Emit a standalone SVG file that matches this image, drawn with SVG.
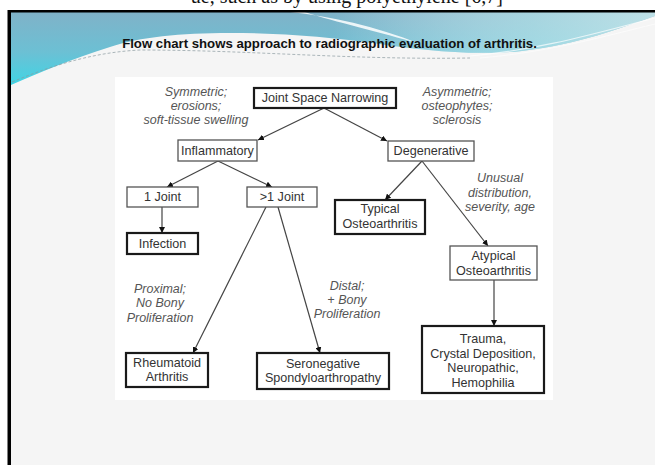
<svg xmlns="http://www.w3.org/2000/svg" width="655" height="465" viewBox="0 0 655 465">
<defs>
<linearGradient id="tealV" x1="0" y1="0" x2="0" y2="1">
<stop offset="0" stop-color="#80b2c8"/>
<stop offset="0.55" stop-color="#6cc0d4"/>
<stop offset="1" stop-color="#3fd5e5"/>
</linearGradient>
<linearGradient id="tealH" x1="0" y1="0" x2="1" y2="0">
<stop offset="0" stop-color="#ffffff" stop-opacity="0"/>
<stop offset="0.5" stop-color="#ffffff" stop-opacity="0"/>
<stop offset="0.8" stop-color="#c8eef0" stop-opacity="0.55"/>
<stop offset="1" stop-color="#d8f3f3" stop-opacity="0.7"/>
</linearGradient>
<marker id="arr" viewBox="0 0 10 10" refX="10" refY="5" markerWidth="6" markerHeight="6" markerUnits="userSpaceOnUse" orient="auto">
<path d="M0,0 L10,5 L0,10 Z" fill="#111"/>
</marker>
<clipPath id="slideClip"><rect x="11" y="12" width="644" height="453"/></clipPath>
</defs>
<style>
.node rect.thin{fill:#fff;stroke:#555;stroke-width:1.3}
.node rect.thick{fill:#fff;stroke:#1a1a1a;stroke-width:2.2}
.node text{font-family:"Liberation Sans",Arial,sans-serif;font-size:12.6px;fill:#333;text-anchor:middle}
.note{font-family:"Liberation Sans",Arial,sans-serif;font-size:12.5px;font-style:italic;fill:#555;text-anchor:middle}
.edge{stroke:#444;stroke-width:1.2;fill:none;marker-end:url(#arr)}
</style>
<rect x="0" y="0" width="655" height="465" fill="#ffffff"/>
<text x="503" y="3" font-family="'Liberation Serif',serif" font-size="20" text-anchor="end" fill="#111">ue, such as by using polyethylene [6,7]</text>
<rect x="9" y="10" width="646" height="455" fill="#f5f5f5"/>
<g clip-path="url(#slideClip)">
<path d="M11,12 H655 V16 C620,28 580,44 522,51 C472,56 420,50 380,44 C330,37 280,33 230,33 C180,33 140,37 110,47 C70,60 40,72 11,85 Z" fill="url(#tealV)"/>
<path d="M11,12 H655 V16 C620,28 580,44 522,51 C472,56 420,50 380,44 C330,37 280,33 230,33 C180,33 140,37 110,47 C70,60 40,72 11,85 Z" fill="url(#tealH)"/>
<path d="M290,12 C330,16 375,26 420,44 C380,32 335,22 305,12 Z" fill="#ffffff" opacity="0.85"/>
<path d="M470,56 C540,50 600,32 655,18" stroke="#ffffff" stroke-width="1.2" fill="none" opacity="0.7"/>
<path d="M480,58 C550,52 605,36 655,24" stroke="#ffffff" stroke-width="1" fill="none" opacity="0.6"/>
<path d="M12,82 C60,62 100,52 140,50 C250,50 350,60 470,58" stroke="#8a9aa0" stroke-width="1" stroke-dasharray="3,2" fill="none" opacity="0.7"/>
</g>
<rect x="9" y="10" width="646" height="2.5" fill="#000"/>
<rect x="7.5" y="10" width="3.5" height="455" fill="#000"/>
<text x="329.5" y="48" font-family="'Liberation Sans',Arial,sans-serif" font-size="13.2" font-weight="bold" text-anchor="middle" fill="#111">Flow chart shows approach to radiographic evaluation of arthritis.</text>
<rect x="115" y="77" width="438" height="323" fill="#ffffff"/>

<g id="connectors">
<line class="edge" x1="324" y1="108" x2="258" y2="140"/>
<line class="edge" x1="324" y1="108" x2="387" y2="141"/>
<line class="edge" x1="218" y1="161" x2="167" y2="187"/>
<line class="edge" x1="218" y1="161" x2="272" y2="187"/>
<line class="edge" x1="162" y1="207" x2="162" y2="233"/>
<line class="edge" x1="266" y1="207" x2="193" y2="353"/>
<line class="edge" x1="278" y1="207" x2="320" y2="353"/>
<line class="edge" x1="422" y1="161" x2="385" y2="200"/>
<line class="edge" x1="422" y1="161" x2="488" y2="246"/>
<line class="edge" x1="494" y1="280" x2="494" y2="326"/>
</g>

<g id="notes">
<text class="note" x="196" y="96">Symmetric;</text>
<text class="note" x="196" y="110">erosions;</text>
<text class="note" x="196" y="124">soft-tissue swelling</text>
<text class="note" x="457" y="96">Asymmetric;</text>
<text class="note" x="457" y="110">osteophytes;</text>
<text class="note" x="457" y="124">sclerosis</text>
<text class="note" x="500" y="182">Unusual</text>
<text class="note" x="500" y="197">distribution,</text>
<text class="note" x="500" y="211">severity, age</text>
<text class="note" x="160" y="293">Proximal;</text>
<text class="note" x="160" y="307">No Bony</text>
<text class="note" x="160" y="322">Proliferation</text>
<text class="note" x="347" y="290">Distal;</text>
<text class="note" x="347" y="304">+ Bony</text>
<text class="note" x="347" y="318">Proliferation</text>
</g>

<g id="jsn" class="node"><rect class="thick" x="254" y="88" width="142" height="20"/><text x="325" y="102">Joint Space Narrowing</text></g>
<g id="inflammatory" class="node"><rect class="thin" x="178" y="140" width="79" height="21"/><text x="217.5" y="155">Inflammatory</text></g>
<g id="degenerative" class="node"><rect class="thin" x="388" y="141" width="86" height="20"/><text x="431" y="155">Degenerative</text></g>
<g id="onejoint" class="node"><rect class="thin" x="127" y="187" width="71" height="20"/><text x="162.5" y="201">1 Joint</text></g>
<g id="morejoint" class="node"><rect class="thin" x="247" y="187" width="70" height="20"/><text x="282" y="201">&gt;1 Joint</text></g>
<g id="infection" class="node"><rect class="thick" x="127" y="233" width="71" height="21"/><text x="162.5" y="248">Infection</text></g>
<g id="typical" class="node"><rect class="thick" x="335" y="200" width="90" height="34"/><text x="380" y="213">Typical</text><text x="380" y="228">Osteoarthritis</text></g>
<g id="atypical" class="node"><rect class="thin" x="450" y="246" width="87" height="34"/><text x="493.5" y="260">Atypical</text><text x="493.5" y="275">Osteoarthritis</text></g>
<g id="trauma" class="node"><rect class="thick" x="422" y="326" width="122" height="67"/><text x="483" y="343">Trauma,</text><text x="483" y="358">Crystal Deposition,</text><text x="483" y="372">Neuropathic,</text><text x="483" y="387">Hemophilia</text></g>
<g id="ra" class="node"><rect class="thick" x="126" y="353" width="82" height="34"/><text x="167" y="367">Rheumatoid</text><text x="167" y="381">Arthritis</text></g>
<g id="sero" class="node"><rect class="thick" x="257" y="353" width="132" height="36"/><text x="323" y="368">Seronegative</text><text x="323" y="382">Spondyloarthropathy</text></g>
</svg>
